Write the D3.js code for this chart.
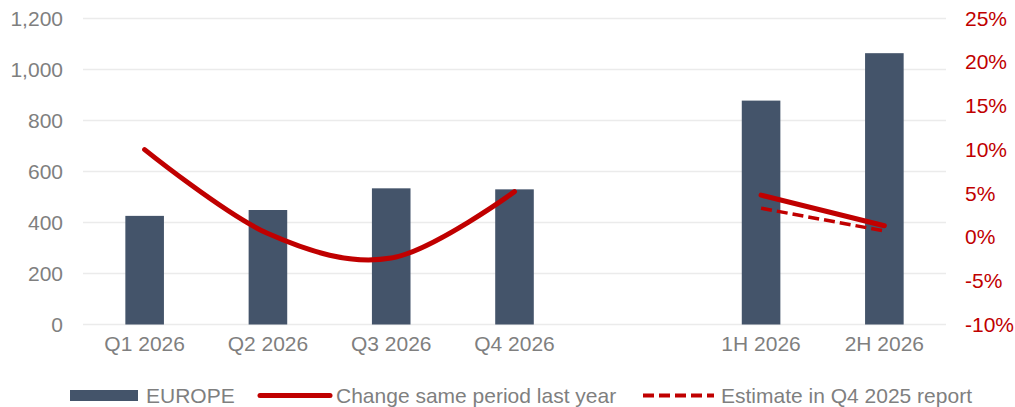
<!DOCTYPE html>
<html>
<head>
<meta charset="utf-8">
<script src="https://cdn.jsdelivr.net/npm/d3@7"></script>
<style>
  html, body { margin: 0; padding: 0; background: #ffffff; }
  svg { display: block; font-family: "Liberation Sans", Arial, sans-serif; }
</style>
</head>
<body>
<svg id="chart" width="1015" height="407"></svg>
<script>
// Periods on the x axis; the empty slot separates quarters from half-years
const categories = ["Q1 2026", "Q2 2026", "Q3 2026", "Q4 2026", "", "1H 2026", "2H 2026"];

// EUROPE volumes (left axis)
const europe = [426, 449, 534, 530, null, 878, 1064];

// Change vs. same period last year, % (right axis)
const changeQuarterCats = ["Q1 2026", "Q2 2026", "Q3 2026", "Q4 2026"];
const changeQuarter = [10.0, 0.4, -2.4, 5.2];
const changeHalfCats = ["1H 2026", "2H 2026"];
const changeHalf = [4.8, 1.3];

// Estimate published in the Q4 2025 report, % (right axis)
const estimateCats = ["1H 2026", "2H 2026"];
const estimate = [3.3, 0.7];

// Axis ticks
const leftTicks = [0, 200, 400, 600, 800, 1000, 1200];
const rightTicks = [-10, -5, 0, 5, 10, 15, 20, 25];

const svg = d3.select("#chart");
const plot = { left: 83, right: 946, top: 18.5, bottom: 324.5 };

const textGray = "#7f7f7f";
const barColor = "#44546a";
const red = "#c00000";
const fontSize = 21;

const x = d3.scaleBand()
  .domain(categories)
  .range([plot.left, plot.right])
  .paddingInner(0.687)
  .paddingOuter(0.3435);

const yLeft = d3.scaleLinear().domain([0, 1200]).range([plot.bottom, plot.top]);
const yRight = d3.scaleLinear().domain([-10, 25]).range([plot.bottom, plot.top]);

// Horizontal gridlines
svg.append("g")
  .selectAll("line")
  .data(leftTicks)
  .join("line")
  .attr("x1", plot.left)
  .attr("x2", plot.right)
  .attr("y1", d => yLeft(d))
  .attr("y2", d => yLeft(d))
  .attr("stroke", "#ebebeb")
  .attr("stroke-width", 1.5);

// Left axis
const leftAxis = svg.append("g")
  .attr("transform", `translate(${plot.left - 20},0)`)
  .call(d3.axisLeft(yLeft).tickValues(leftTicks).tickSize(0).tickPadding(0)
    .tickFormat(d3.format(",")));
leftAxis.select(".domain").remove();
leftAxis.selectAll("text")
  .attr("fill", textGray)
  .style("font-size", fontSize + "px")
  .style("font-family", "'Liberation Sans', Arial, sans-serif");

// Right axis
const rightAxis = svg.append("g")
  .attr("transform", `translate(${plot.right + 19},0)`)
  .call(d3.axisRight(yRight).tickValues(rightTicks).tickSize(0).tickPadding(0)
    .tickFormat(d => d + "%"));
rightAxis.select(".domain").remove();
rightAxis.selectAll("text")
  .attr("fill", red)
  .style("font-size", fontSize + "px")
  .style("font-family", "'Liberation Sans', Arial, sans-serif");

// Bottom axis labels
const bottomAxis = svg.append("g")
  .attr("transform", `translate(0,${plot.bottom + 12})`)
  .call(d3.axisBottom(x).tickSize(0).tickPadding(0));
bottomAxis.select(".domain").remove();
bottomAxis.selectAll("text")
  .attr("fill", textGray)
  .attr("dy", "0.71em")
  .style("font-size", fontSize + "px")
  .style("font-family", "'Liberation Sans', Arial, sans-serif");

// Bars
svg.append("g")
  .selectAll("rect")
  .data(categories.map((c, i) => ({ c, v: europe[i] })).filter(d => d.v != null))
  .join("rect")
  .attr("x", d => x(d.c))
  .attr("width", x.bandwidth())
  .attr("y", d => yLeft(d.v))
  .attr("height", d => yLeft(0) - yLeft(d.v))
  .attr("fill", barColor);

const cx = c => x(c) + x.bandwidth() / 2;

// Smoothed change line across quarters
const smooth = d3.line()
  .x(d => cx(d.c))
  .y(d => yRight(d.v))
  .curve(d3.curveCardinal.tension(0));

const straight = d3.line()
  .x(d => cx(d.c))
  .y(d => yRight(d.v));

// Estimate line (dashed)
svg.append("path")
  .datum(estimateCats.map((c, i) => ({ c, v: estimate[i] })))
  .attr("d", straight)
  .attr("fill", "none")
  .attr("stroke", red)
  .attr("stroke-width", 3.5)
  .attr("stroke-dasharray", "11,5");

svg.append("path")
  .datum(changeQuarterCats.map((c, i) => ({ c, v: changeQuarter[i] })))
  .attr("d", smooth)
  .attr("fill", "none")
  .attr("stroke", red)
  .attr("stroke-width", 5)
  .attr("stroke-linecap", "round");

svg.append("path")
  .datum(changeHalfCats.map((c, i) => ({ c, v: changeHalf[i] })))
  .attr("d", straight)
  .attr("fill", "none")
  .attr("stroke", red)
  .attr("stroke-width", 5)
  .attr("stroke-linecap", "round");

// Legend
const legendY = 395.5;
const legend = svg.append("g");

legend.append("rect")
  .attr("x", 70).attr("y", legendY - 5.5)
  .attr("width", 68).attr("height", 11)
  .attr("fill", barColor);
legend.append("text")
  .attr("x", 146).attr("y", legendY).attr("dy", "0.36em")
  .attr("fill", textGray).style("font-size", fontSize + "px")
  .text("EUROPE");

legend.append("line")
  .attr("x1", 260).attr("x2", 330)
  .attr("y1", legendY).attr("y2", legendY)
  .attr("stroke", red).attr("stroke-width", 5).attr("stroke-linecap", "round");
legend.append("text")
  .attr("x", 336).attr("y", legendY).attr("dy", "0.36em")
  .attr("fill", textGray).style("font-size", fontSize + "px")
  .text("Change same period last year");

legend.append("line")
  .attr("x1", 643).attr("x2", 714)
  .attr("y1", legendY).attr("y2", legendY)
  .attr("stroke", red).attr("stroke-width", 4).attr("stroke-dasharray", "11,5");
legend.append("text")
  .attr("x", 721).attr("y", legendY).attr("dy", "0.36em")
  .attr("fill", textGray).style("font-size", fontSize + "px")
  .text("Estimate in Q4 2025 report");
</script>
</body>
</html>
